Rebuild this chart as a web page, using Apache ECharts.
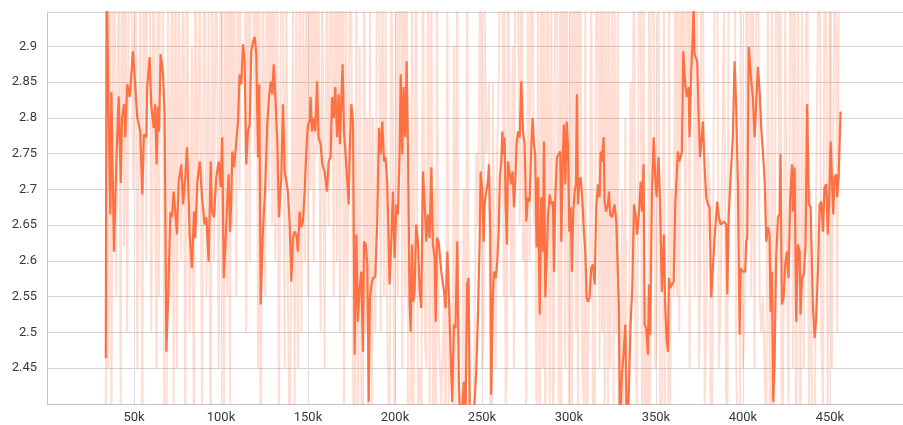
<!DOCTYPE html>
<html>
<head>
<meta charset="utf-8">
<script src="https://cdn.jsdelivr.net/npm/echarts@6/dist/echarts.min.js"></script>
<style>
  html, body { margin: 0; padding: 0; background: #fff; }
  #chart { width: 903px; height: 425px; }
</style>
</head>
<body>
<div id="chart"></div>
<script>
// training steps, in thousands
const smoothSteps = [
  33.8, 34.3, 35.1, 36.4, 37.0, 38.5, 39.8, 41.2, 42.4, 43.1,
  44.3, 45.0, 46.1, 47.5, 49.4, 50.7, 51.9, 53.6, 54.8, 55.7,
  57.1, 57.6, 59.0, 59.9, 61.3, 62.2, 63.0, 63.8, 64.4, 65.3,
  66.7, 67.6, 68.6, 69.5, 70.9, 71.8, 72.8, 73.7, 74.7, 75.7,
  77.2, 78.2, 79.5, 80.5, 82.0, 83.3, 84.5, 85.2, 86.4, 87.8,
  89.1, 90.6, 91.6, 92.9, 94.1, 94.8, 96.0, 97.3, 98.7, 99.8,
  100.7, 101.6, 102.7, 103.6, 104.4, 105.2, 105.9, 106.5, 107.5, 108.8,
  109.8, 110.7, 111.7, 112.6, 113.6, 114.5, 115.5, 116.5, 117.4, 118.4,
  119.4, 120.3, 121.3, 122.0, 122.8, 124.1, 125.5, 126.6, 127.6, 128.6,
  129.5, 130.3, 131.2, 132.4, 133.3, 134.7, 135.6, 136.6, 137.5, 138.5,
  139.5, 140.4, 141.4, 142.3, 143.3, 144.2, 145.2, 146.2, 147.1, 148.1,
  149.0, 150.0, 151.0, 151.5, 152.3, 153.3, 154.2, 155.2, 156.1, 157.3,
  158.2, 159.6, 160.9, 161.9, 163.0, 163.8, 164.8, 165.7, 166.7, 167.6,
  168.4, 169.1, 169.9, 170.7, 171.7, 172.6, 173.4, 174.1, 174.9, 175.9,
  176.8, 177.8, 178.7, 179.7, 180.6, 181.6, 182.2, 183.2, 184.1, 184.9,
  185.6, 186.8, 187.4, 188.7, 189.8, 190.8, 191.8, 192.7, 193.7, 194.6,
  195.6, 196.9, 197.9, 198.8, 199.8, 200.8, 201.7, 202.7, 203.3, 204.2,
  205.0, 205.9, 206.7, 207.5, 208.4, 209.0, 209.8, 210.5, 211.3, 212.2,
  213.2, 214.2, 215.1, 216.1, 217.1, 218.0, 219.0, 219.9, 220.9, 221.8,
  222.8, 223.4, 224.1, 225.1, 226.6, 228.2, 229.1, 230.1, 231.0, 232.0,
  232.9, 233.9, 234.8, 235.8, 236.8, 237.8, 239.6, 240.4, 241.5, 242.3,
  243.1, 244.8, 246.7, 247.7, 248.7, 249.2, 250.2, 251.0, 251.5, 252.5,
  253.4, 254.0, 254.8, 255.3, 256.3, 256.9, 257.9, 258.8, 259.6, 260.3,
  261.1, 261.7, 262.5, 263.0, 263.6, 264.4, 264.9, 265.9, 266.8, 267.6,
  268.4, 269.1, 269.9, 270.7, 271.7, 272.6, 273.6, 274.5, 275.5, 276.4,
  277.4, 278.3, 279.1, 279.9, 280.6, 281.4, 282.2, 283.2, 284.1, 285.1,
  285.6, 286.4, 287.4, 287.9, 288.9, 289.8, 290.8, 291.4, 292.1, 293.1,
  294.1, 295.0, 295.6, 296.4, 297.1, 297.9, 298.7, 299.4, 300.2, 301.0,
  301.7, 302.5, 303.3, 304.0, 304.6, 305.2, 305.9, 306.7, 307.6, 308.6,
  309.4, 310.2, 310.9, 311.9, 312.8, 313.8, 314.8, 315.7, 316.7, 317.6,
  318.2, 319.1, 319.9, 320.5, 321.4, 322.4, 323.0, 323.7, 324.7, 325.7,
  326.2, 327.2, 328.1, 328.7, 329.3, 330.5, 331.4, 332.4, 333.3, 334.3,
  335.4, 336.4, 337.4, 338.3, 339.2, 340.2, 341.2, 342.0, 342.9, 343.5,
  344.4, 345.4, 346.0, 346.7, 347.7, 348.7, 349.6, 350.4, 351.5, 352.3,
  353.4, 354.6, 355.3, 356.1, 356.9, 357.5, 358.2, 359.2, 360.2, 361.1,
  362.1, 362.6, 363.4, 364.2, 364.9, 365.7, 366.8, 367.8, 368.8, 369.3,
  370.3, 371.1, 371.7, 372.2, 373.7, 374.7, 375.3, 376.0, 377.0, 378.0,
  378.9, 379.9, 380.8, 381.8, 383.7, 385.2, 386.2, 387.2, 389.1, 390.4,
  391.0, 391.8, 392.9, 394.2, 395.2, 396.1, 397.1, 398.1, 398.7, 400.0,
  401.3, 401.9, 402.5, 403.3, 404.2, 404.8, 405.7, 406.7, 407.6, 408.6,
  409.6, 410.5, 411.5, 412.5, 413.4, 414.4, 415.3, 415.9, 416.7, 417.4,
  418.2, 419.1, 420.1, 421.1, 421.6, 422.4, 423.4, 424.3, 425.3, 426.2,
  427.2, 428.2, 428.7, 429.7, 430.6, 431.6, 432.6, 433.1, 433.9, 435.0,
  436.0, 436.9, 437.9, 438.9, 440.2, 441.2, 442.1, 443.1, 444.1, 445.0,
  446.0, 446.9, 447.9, 448.8, 449.8, 450.4, 451.1, 451.9, 452.7, 453.6,
  454.2, 455.0, 456.1
];

// smoothed loss
const smoothLoss = [
  2.464, 3.02, 2.851, 2.665, 2.836, 2.613, 2.735, 2.830, 2.709, 2.800,
  2.819, 2.773, 2.847, 2.829, 2.893, 2.847, 2.800, 2.781, 2.693, 2.777,
  2.773, 2.843, 2.885, 2.819, 2.786, 2.819, 2.735, 2.815, 2.781, 2.889,
  2.861, 2.805, 2.473, 2.539, 2.668, 2.661, 2.697, 2.669, 2.637, 2.711,
  2.735, 2.679, 2.717, 2.759, 2.637, 2.590, 2.669, 2.632, 2.711, 2.739,
  2.689, 2.651, 2.661, 2.599, 2.739, 2.669, 2.661, 2.717, 2.739, 2.703,
  2.773, 2.576, 2.632, 2.683, 2.721, 2.641, 2.683, 2.753, 2.731, 2.767,
  2.795, 2.861, 2.847, 2.903, 2.879, 2.735, 2.781, 2.791, 2.893, 2.907,
  2.913, 2.889, 2.745, 2.847, 2.539, 2.641, 2.707, 2.791, 2.829, 2.851,
  2.833, 2.875, 2.833, 2.763, 2.661, 2.717, 2.819, 2.725, 2.725, 2.697,
  2.651, 2.571, 2.632, 2.641, 2.637, 2.613, 2.669, 2.647, 2.655, 2.697,
  2.753, 2.791, 2.795, 2.829, 2.781, 2.800, 2.781, 2.851, 2.773, 2.763,
  2.735, 2.725, 2.697, 2.739, 2.745, 2.829, 2.800, 2.843, 2.773, 2.833,
  2.763, 2.819, 2.875, 2.781, 2.745, 2.711, 2.679, 2.763, 2.819, 2.795,
  2.469, 2.637, 2.515, 2.562, 2.585, 2.473, 2.627, 2.623, 2.595, 2.403,
  2.549, 2.571, 2.576, 2.578, 2.655, 2.786, 2.749, 2.795, 2.739, 2.745,
  2.707, 2.567, 2.627, 2.697, 2.604, 2.679, 2.665, 2.753, 2.861, 2.749,
  2.843, 2.773, 2.879, 2.759, 2.539, 2.501, 2.623, 2.543, 2.557, 2.651,
  2.627, 2.557, 2.534, 2.725, 2.679, 2.627, 2.665, 2.632, 2.731, 2.623,
  2.604, 2.515, 2.632, 2.627, 2.585, 2.557, 2.534, 2.613, 2.553, 2.469,
  2.403, 2.511, 2.506, 2.627, 2.422, 2.36, 2.431, 2.36, 2.567, 2.576,
  2.36, 2.36, 2.445, 2.525, 2.632, 2.725, 2.697, 2.627, 2.679, 2.697,
  2.711, 2.735, 2.632, 2.413, 2.553, 2.585, 2.576, 2.599, 2.641, 2.717,
  2.739, 2.781, 2.749, 2.773, 2.679, 2.623, 2.739, 2.739, 2.707, 2.725,
  2.675, 2.707, 2.763, 2.781, 2.773, 2.851, 2.781, 2.763, 2.655, 2.689,
  2.683, 2.753, 2.800, 2.763, 2.749, 2.619, 2.717, 2.525, 2.689, 2.613,
  2.767, 2.549, 2.613, 2.661, 2.693, 2.679, 2.683, 2.585, 2.683, 2.745,
  2.749, 2.753, 2.627, 2.739, 2.791, 2.707, 2.795, 2.763, 2.641, 2.675,
  2.585, 2.669, 2.697, 2.707, 2.833, 2.679, 2.711, 2.717, 2.689, 2.641,
  2.613, 2.549, 2.543, 2.549, 2.590, 2.595, 2.567, 2.675, 2.707, 2.689,
  2.753, 2.739, 2.773, 2.683, 2.669, 2.679, 2.697, 2.665, 2.661, 2.661,
  2.679, 2.655, 2.655, 2.539, 2.36, 2.445, 2.469, 2.511, 2.36, 2.408,
  2.511, 2.562, 2.679, 2.665, 2.637, 2.665, 2.711, 2.669, 2.735, 2.511,
  2.506, 2.469, 2.567, 2.497, 2.693, 2.773, 2.717, 2.689, 2.745, 2.689,
  2.557, 2.637, 2.539, 2.492, 2.473, 2.576, 2.562, 2.567, 2.571, 2.679,
  2.679, 2.753, 2.739, 2.745, 2.753, 2.893, 2.847, 2.829, 2.843, 2.773,
  2.865, 2.913, 2.96, 2.889, 2.879, 2.791, 2.745, 2.763, 2.795, 2.731,
  2.689, 2.679, 2.675, 2.549, 2.632, 2.683, 2.661, 2.651, 2.655, 2.651,
  2.553, 2.661, 2.717, 2.773, 2.879, 2.819, 2.707, 2.497, 2.590, 2.585,
  2.585, 2.627, 2.632, 2.899, 2.899, 2.851, 2.829, 2.773, 2.819, 2.871,
  2.837, 2.786, 2.753, 2.711, 2.627, 2.647, 2.637, 2.529, 2.585, 2.403,
  2.459, 2.604, 2.661, 2.665, 2.749, 2.539, 2.549, 2.595, 2.613, 2.576,
  2.689, 2.735, 2.669, 2.731, 2.515, 2.623, 2.613, 2.525, 2.576, 2.581,
  2.623, 2.819, 2.679, 2.675, 2.539, 2.492, 2.520, 2.585, 2.679, 2.683,
  2.641, 2.703, 2.707, 2.637, 2.703, 2.767, 2.721, 2.665, 2.717, 2.721,
  2.689, 2.717, 2.809
];

// raw (unsmoothed) loss, same steps
const rawLoss = [
  2.30, 3.30, 2.45, 3.10, 2.35, 3.20, 2.55, 3.05, 2.40, 3.25,
  2.62, 3.10, 2.50, 3.30, 2.70, 3.15, 2.45, 3.00, 2.35, 3.20,
  2.60, 3.25, 3.05, 2.50, 3.10, 2.65, 2.45, 3.20, 2.55, 3.30,
  2.95, 2.20, 2.30, 2.95, 2.55, 3.05, 2.40, 3.10, 2.45, 3.00,
  2.60, 3.15, 2.35, 3.05, 2.50, 2.90, 2.30, 3.10, 2.65, 3.00,
  2.40, 3.20, 2.55, 2.95, 2.25, 3.05, 2.60, 3.15, 2.45, 3.00,
  2.98, 2.30, 3.10, 2.55, 3.05, 2.40, 3.20, 2.65, 3.00, 2.55,
  3.15, 2.70, 3.25, 2.95, 3.10, 2.50, 3.20, 2.60, 3.30, 3.05,
  2.75, 3.20, 2.45, 3.10, 2.25, 3.05, 2.55, 3.20, 2.70, 3.15,
  2.65, 3.25, 2.60, 2.95, 2.35, 3.10, 3.00, 2.45, 3.05, 2.55,
  2.30, 2.60, 2.95, 2.40, 3.00, 2.45, 3.05, 2.50, 2.95, 2.60,
  3.10, 2.55, 3.20, 2.70, 3.05, 2.60, 3.15, 2.75, 2.95, 2.50,
  3.05, 2.45, 3.10, 2.65, 3.00, 2.95, 2.55, 3.20, 2.60, 3.15,
  2.50, 3.05, 3.10, 2.40, 3.00, 2.55, 2.70, 3.10, 2.95, 2.45,
  2.20, 3.00, 2.30, 2.90, 2.45, 2.25, 3.05, 2.50, 2.80, 2.15,
  2.95, 2.40, 2.80, 2.50, 3.10, 3.00, 2.50, 3.10, 2.55, 2.95,
  2.50, 2.35, 3.00, 2.80, 2.30, 3.05, 2.55, 3.10, 3.20, 2.45,
  3.25, 2.55, 3.15, 2.40, 2.25, 2.35, 3.00, 2.30, 2.70, 3.05,
  2.40, 2.45, 2.35, 3.10, 2.50, 2.45, 3.00, 2.40, 3.05, 2.35,
  2.70, 2.25, 3.00, 2.50, 2.40, 2.55, 2.30, 2.95, 2.35, 2.20,
  2.25, 2.90, 2.40, 3.05, 2.10, 2.20, 2.70, 2.15, 3.00, 2.55,
  2.20, 2.25, 2.75, 2.65, 2.95, 3.05, 2.45, 2.50, 2.95, 2.75,
  2.80, 2.85, 2.30, 2.15, 2.85, 2.65, 2.45, 2.75, 2.85, 3.00,
  2.95, 3.05, 2.55, 3.00, 2.40, 2.45, 3.05, 2.80, 2.55, 2.90,
  2.45, 3.00, 3.05, 2.95, 2.65, 3.20, 2.60, 2.70, 2.40, 2.95,
  2.60, 3.05, 3.00, 2.65, 2.70, 2.35, 3.00, 2.25, 3.05, 2.45,
  3.10, 2.30, 2.95, 3.05, 2.40, 3.00, 2.35, 2.45, 3.10, 3.00,
  2.40, 3.05, 2.35, 3.10, 3.05, 2.45, 3.15, 2.60, 2.35, 3.00,
  2.30, 3.05, 2.95, 2.50, 3.25, 2.35, 3.00, 2.95, 2.45, 2.40,
  2.95, 2.25, 2.45, 2.60, 3.00, 2.40, 2.30, 3.05, 2.95, 2.45,
  3.10, 2.50, 3.05, 2.35, 2.95, 2.40, 3.00, 2.45, 2.95, 2.40,
  3.00, 2.50, 2.95, 2.20, 2.05, 2.70, 2.40, 2.80, 2.10, 2.35,
  2.85, 2.60, 3.10, 2.45, 2.40, 3.00, 3.05, 2.35, 3.05, 2.20,
  2.55, 2.30, 2.95, 2.30, 3.10, 3.05, 2.45, 2.50, 3.05, 2.40,
  2.25, 3.00, 2.30, 2.30, 2.35, 2.95, 2.40, 2.70, 2.55, 3.05,
  2.55, 3.10, 2.50, 2.95, 2.85, 3.30, 2.55, 2.95, 3.05, 2.45,
  3.20, 3.15, 3.10, 2.55, 2.95, 2.45, 2.55, 3.00, 3.05, 2.40,
  2.50, 2.75, 2.70, 2.20, 3.00, 3.00, 2.45, 2.55, 2.95, 2.40,
  2.30, 3.05, 3.00, 3.10, 3.20, 2.45, 2.35, 2.15, 3.05, 2.45,
  2.55, 2.95, 2.70, 3.30, 3.05, 2.55, 3.00, 2.45, 3.05, 3.10,
  2.55, 2.50, 2.55, 2.45, 2.35, 3.00, 2.45, 2.25, 3.00, 2.05,
  2.55, 3.05, 2.95, 2.60, 3.10, 2.20, 2.55, 2.95, 2.60, 2.40,
  3.05, 3.00, 2.45, 3.05, 2.15, 3.05, 2.45, 2.30, 2.95, 2.45,
  2.85, 3.20, 2.35, 2.70, 2.25, 2.30, 2.70, 2.95, 3.05, 2.50,
  2.40, 3.05, 2.90, 2.35, 3.00, 3.05, 2.45, 2.45, 3.05, 2.90,
  2.50, 2.95, 3.10
];

const xTickLabels = ['50k', '100k', '150k', '200k', '250k', '300k', '350k', '400k', '450k'];
const yTickLabels = ['2.45', '2.5', '2.55', '2.6', '2.65', '2.7', '2.75', '2.8', '2.85', '2.9'];

const orange = '#ff7043';
const rawData = rawLoss.map((v, i) => [smoothSteps[i] * 1000, v]);
const smoothData = smoothLoss.map((v, i) => [smoothSteps[i] * 1000, v]);

const chart = echarts.init(document.getElementById('chart'), null, { renderer: 'canvas' });
chart.setOption({
  animation: false,
  backgroundColor: '#fff',
  grid: { left: 47, right: 0, top: 12, bottom: 21 },
  xAxis: {
    type: 'value',
    min: 0,
    max: 492000,
    interval: 50000,
    axisLine: { show: true, lineStyle: { color: '#c4c4c4', width: 1 } },
    axisTick: { show: false },
    splitLine: { show: true, lineStyle: { color: '#e0e0e0', width: 1 } },
    axisLabel: {
      showMinLabel: false,
      showMaxLabel: false,
      color: '#3a3a3a',
      fontFamily: 'Roboto, sans-serif',
      fontSize: 13,
      margin: 7,
      formatter: v => {
        const idx = Math.round(v / 50000) - 1;
        return (v % 50000 === 0 && idx >= 0) ? (xTickLabels[idx] || '') : '';
      }
    }
  },
  yAxis: {
    type: 'value',
    min: 2.4,
    max: 2.948,
    interval: 0.05,
    axisLine: { show: true, lineStyle: { color: '#c4c4c4', width: 1 } },
    axisTick: { show: false },
    splitLine: { show: true, lineStyle: { color: '#d4d4d4', width: 1 } },
    axisLabel: {
      showMinLabel: false,
      showMaxLabel: false,
      color: '#3a3a3a',
      fontFamily: 'Roboto, sans-serif',
      fontSize: 13,
      margin: 10,
      formatter: v => {
        const s = String(Number(v.toFixed(2)));
        return yTickLabels.includes(s) ? s : '';
      }
    }
  },
  series: [
    {
      name: 'raw',
      type: 'line',
      data: rawData,
      showSymbol: false,
      silent: true,
      clip: true,
      lineStyle: { color: orange, width: 2, opacity: 0.24 }
    },
    {
      name: 'smoothed',
      type: 'line',
      data: smoothData,
      showSymbol: false,
      silent: true,
      clip: true,
      lineStyle: { color: orange, width: 2.2 }
    }
  ]
});
</script>
</body>
</html>
